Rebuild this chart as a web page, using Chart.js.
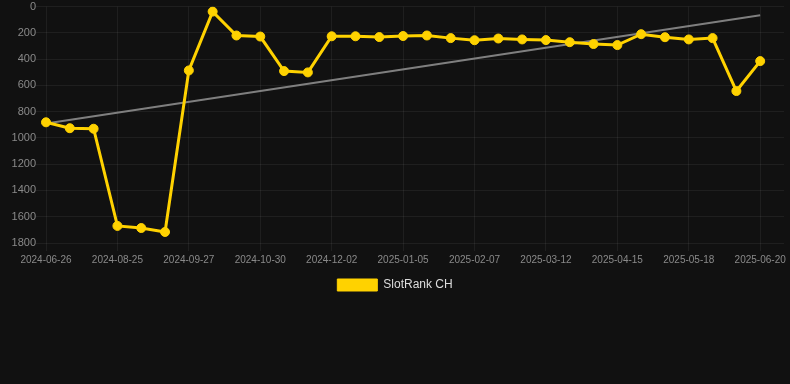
<!DOCTYPE html>
<html>
<head>
<meta charset="utf-8">
<script src="https://cdn.jsdelivr.net/npm/chart.js@4"></script>
<style>
  html, body { margin: 0; padding: 0; background: #111111; }
  #wrap { width: 790px; height: 301px; }
</style>
</head>
<body>
<div id="wrap"><canvas id="rankChart"></canvas></div>
<script>
// one more date after the last point keeps the empty strip on the right
const dates = [
  "2024-06-26", "2024-07-16", "2024-08-05", "2024-08-25", "2024-09-05", "2024-09-16",
  "2024-09-27", "2024-10-08", "2024-10-19", "2024-10-30", "2024-11-10", "2024-11-21",
  "2024-12-02", "2024-12-13", "2024-12-24", "2025-01-05", "2025-01-16", "2025-01-27",
  "2025-02-07", "2025-02-18", "2025-03-01", "2025-03-12", "2025-03-23", "2025-04-04",
  "2025-04-15", "2025-04-26", "2025-05-07", "2025-05-18", "2025-05-29", "2025-06-09",
  "2025-06-20", "2025-07-01"
];
const ranks = [
  881, 926, 930, 1670, 1686, 1716, 486, 38, 220, 228, 491, 501,
  226, 226, 232, 224, 220, 240, 256, 243, 250, 255, 271, 285,
  293, 210, 233, 250, 240, 643, 415
];
// trend line ends
const trendEnds = [890, 66];

const gold = "#FFD200";
const tickColor = "#8a8a8a";
const gridColor = "rgba(255,255,255,0.06)";

Chart.defaults.font.family = "Arial, 'Liberation Sans', sans-serif";

const ctx = document.getElementById("rankChart").getContext("2d");

const rankChart = new Chart(ctx, {
  type: "line",
  data: {
    labels: dates,
    datasets: [
      {
        label: "SlotRank CH",
        data: ranks,
        borderColor: gold,
        backgroundColor: gold,
        borderWidth: 3,
        pointRadius: 4.5,
        pointHoverRadius: 5,
        pointBorderWidth: 1,
        tension: 0,
      },
      {
        label: "trend",
        data: [
          { x: dates[0], y: trendEnds[0] },
          { x: dates[ranks.length - 1], y: trendEnds[1] },
        ],
        borderColor: "rgba(140,140,140,0.9)",
        borderWidth: 2,
        pointRadius: 0,
        pointHoverRadius: 0,
        fill: false,
      },
    ],
  },
  options: {
    responsive: true,
    maintainAspectRatio: false,
    animation: false,
    scales: {
      x: {
        grid: { color: gridColor },
        border: { display: false },
        ticks: {
          color: tickColor,
          font: { size: 10 },
          maxRotation: 0,
          autoSkip: true,
        },
      },
      y: {
        reverse: true,
        min: 0,
        max: 1800,
        grid: { color: gridColor, tickLength: 10 },
        border: { display: false },
        afterFit: (scale) => {
          scale.width = 46;
        },
        ticks: {
          stepSize: 200,
          padding: 0,
          color: tickColor,
          font: { size: 11 },
          callback: (value) => value,
        },
      },
    },
    plugins: {
      legend: {
        position: "bottom",
        labels: {
          color: "#dddddd",
          font: { size: 12 },
          boxWidth: 40,
          boxHeight: 12,
          filter: (item) => item.text !== "trend",
          generateLabels: (chart) =>
            Chart.defaults.plugins.legend.labels.generateLabels(chart).map((item) => {
              item.lineWidth = 1;
              return item;
            }),
        },
      },
      tooltip: { enabled: true },
    },
  },
});
</script>
</body>
</html>
